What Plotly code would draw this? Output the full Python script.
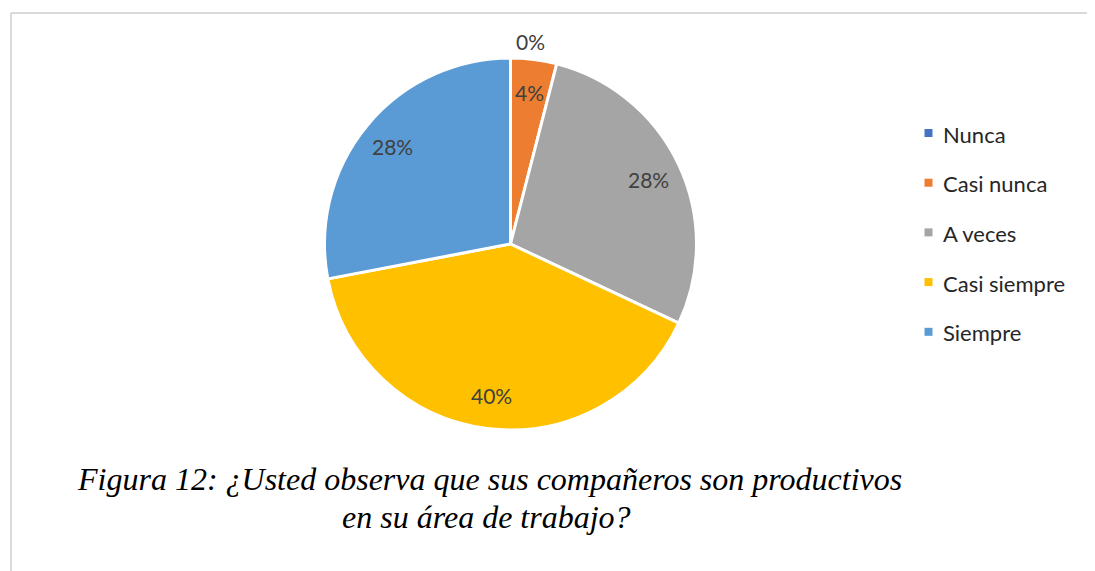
"""
Pie chart: ¿Usted observa que sus compañeros son productivos en su área de trabajo?
"""

import math
import plotly.graph_objects as go

labels = ['Nunca', 'Casi nunca', 'A veces', 'Casi siempre', 'Siempre']
percentages = [0, 4, 28, 40, 28]
colors = ['#4472C4', '#ED7D31', '#A5A5A5', '#FFC000', '#5B9BD5']

W, H = 1095, 571
OFF = 8  # page body margin, pixels
# pie geometry in pixels (page coordinates)
cx, cy, R = 510.5 - OFF, 244 - OFF, 186
label_r = 0.82


def px_x(x):
    return x / W


def px_y(y):
    return 1 - y / H


fig = go.Figure()

fig.add_trace(go.Pie(
    labels=labels,
    values=percentages,
    sort=False,
    direction='clockwise',
    rotation=0,
    marker=dict(colors=colors, line=dict(color='white', width=3)),
    textinfo='none',
    hoverinfo='label+percent',
    showlegend=False,
    domain=dict(x=[px_x(cx - R), px_x(cx + R)], y=[px_y(cy + R), px_y(cy - R)]),
))

annotations = []
shapes = []

# percentage labels, placed at the middle angle of each slice
total = sum(percentages)
start = 0
for lab, val in zip(labels, percentages):
    mid = (start + val / 2) / total * 2 * math.pi
    start += val
    if val == 0:
        # zero slice: label sits just outside the pie top
        tx, ty = cx + 20, cy - R - 16
    else:
        tx = cx + label_r * R * math.sin(mid)
        ty = cy - label_r * R * math.cos(mid)
    annotations.append(dict(
        x=px_x(tx), y=px_y(ty), xref='paper', yref='paper',
        xanchor='center', yanchor='middle',
        text=f'{val}%', showarrow=False,
        font=dict(family='Lato, Carlito, sans-serif', size=21, color='#404040'),
    ))

# custom legend with wide spacing
leg_x, leg_y0, leg_step = 928.5 - OFF, 133 - OFF, 49.7
for i, (lab, col) in enumerate(zip(labels, colors)):
    y = leg_y0 + i * leg_step
    shapes.append(dict(
        type='rect', xref='paper', yref='paper',
        x0=px_x(leg_x - 4), x1=px_x(leg_x + 4),
        y0=px_y(y + 4), y1=px_y(y - 4),
        fillcolor=col, line=dict(width=0),
    ))
    annotations.append(dict(
        x=px_x(leg_x + 12), y=px_y(y + 1), xref='paper', yref='paper',
        xanchor='left', yanchor='middle', text=lab, showarrow=False,
        font=dict(family='Lato, Carlito, sans-serif', size=22, color='#262626'),
    ))

# caption
cap_font = dict(family='Liberation Serif, Times New Roman, serif', size=32, color='#000000')
annotations.append(dict(
    x=px_x(489 - OFF), y=px_y(479 - OFF), xref='paper', yref='paper',
    xanchor='center', yanchor='middle',
    text='<i>Figura 12: ¿Usted observa que sus compañeros son productivos</i>',
    showarrow=False, font=cap_font,
))
annotations.append(dict(
    x=px_x(486 - OFF), y=px_y(517 - OFF), xref='paper', yref='paper',
    xanchor='center', yanchor='middle',
    text='<i>en su área de trabajo?</i>',
    showarrow=False, font=cap_font,
))

# chart-area frame (top and left edges)
fx, fy = 11 - OFF, 13 - OFF
shapes.append(dict(type='line', xref='paper', yref='paper',
                   x0=px_x(fx), x1=1.0, y0=px_y(fy), y1=px_y(fy),
                   line=dict(color='#D9D9D9', width=2)))
shapes.append(dict(type='line', xref='paper', yref='paper',
                   x0=px_x(fx), x1=px_x(fx), y0=0, y1=px_y(fy),
                   line=dict(color='#D9D9D9', width=2)))

fig.update_layout(
    width=W, height=H,
    margin=dict(l=0, r=0, t=0, b=0),
    paper_bgcolor='white',
    plot_bgcolor='white',
    annotations=annotations,
    shapes=shapes,
)

fig.write_html('out.html')
